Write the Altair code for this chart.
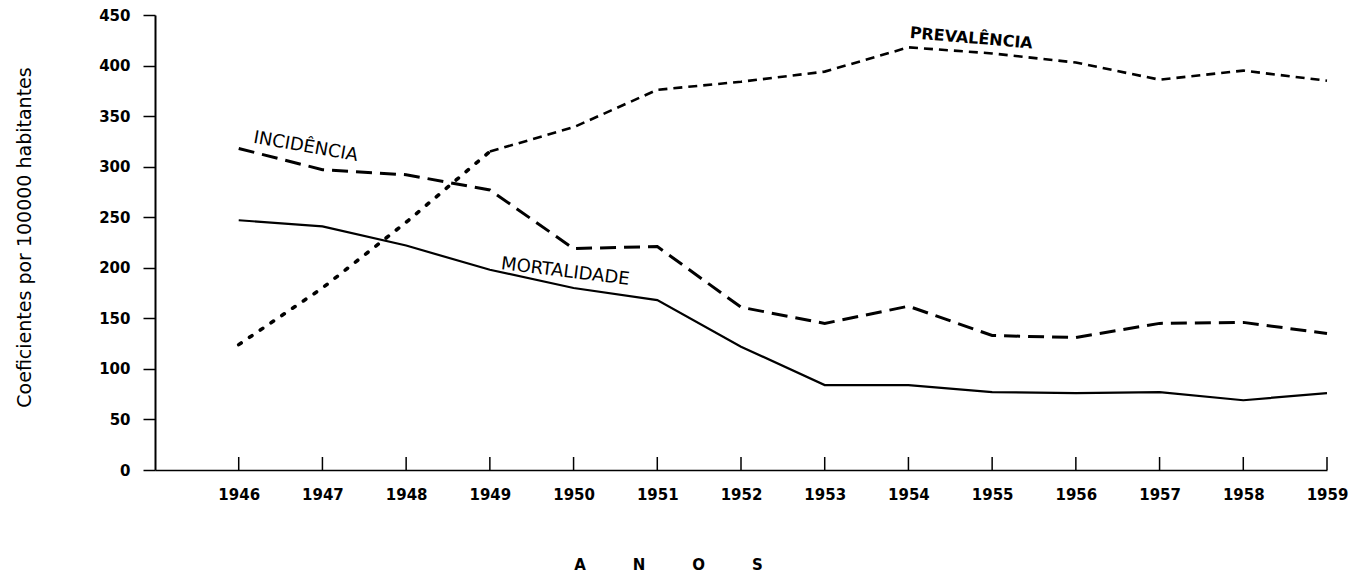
import altair as alt
import pandas as pd

# ---- data ----
anos = list(range(1946, 1960))
mortalidade = [247, 241, 222, 198, 180, 168, 122, 84, 84, 77, 76, 77, 69, 76]
incidencia = [318, 297, 292, 277, 219, 221, 161, 145, 162, 133, 131, 145, 146, 135]
prevalencia = [124, 180, 245, 315, 339, 376, 384, 394, 418, 412, 403, 386, 395, 385]
y_ticks = list(range(0, 451, 50))

rotulos = ["INCIDÊNCIA", "MORTALIDADE", "PREVALÊNCIA"]
rotulo_ano = [1946.80, 1949.90, 1954.75]
rotulo_valor = [319.5, 195.8, 427.0]
rotulo_angulo = [10, 7, 5]

FONT = "DejaVu Sans"
INK = "#000000"

df_m = pd.DataFrame({"ano": anos, "valor": mortalidade})
df_i = pd.DataFrame({"ano": anos, "valor": incidencia})
df_p = pd.DataFrame({"ano": anos, "valor": prevalencia})
df_r = pd.DataFrame({"ano": rotulo_ano, "valor": rotulo_valor,
                     "texto": rotulos, "ang": rotulo_angulo})
df_t = pd.DataFrame({"ano": anos, "valor": [0] * len(anos)})

nb = "\u00a0" * 9
x_title = "A" + nb + "N" + nb + "O" + nb + "S"

xscale = alt.Scale(domain=[1945, 1959], nice=False, zero=False)
yscale = alt.Scale(domain=[0, 450], nice=False)

x_axis = alt.Axis(
    values=anos, format="d", ticks=False, tickSize=0, labelPadding=17,
    labelFont=FONT, labelFontSize=15, labelFontWeight="bold", labelColor=INK,
    labelFlush=False, domainColor=INK, domainWidth=1.6, grid=False,
    title=x_title, titleX=513, titleY=87, titleBaseline="top", titleAlign="center",
    titleFont=FONT, titleFontSize=15, titleFontWeight="bold", titleColor=INK,
)
y_axis = alt.Axis(
    values=y_ticks, tickSize=12, tickWidth=1.5, tickColor=INK, labelPadding=13,
    labelFont=FONT, labelFontSize=15, labelFontWeight="bold", labelColor=INK,
    domainColor=INK, domainWidth=2, grid=False,
    title="Coeficientes por 100000 habitantes", titleX=-121, titleY=222,
    titleAngle=270, titleBaseline="bottom", titleAlign="center",
    titleFont=FONT, titleFontSize=19, titleFontWeight="normal", titleColor=INK,
)

X = alt.X("ano:Q", scale=xscale, axis=x_axis)
Y = alt.Y("valor:Q", scale=yscale, axis=y_axis)

mort = alt.Chart(df_m).mark_line(color=INK, strokeWidth=2.2).encode(x=X, y=Y)
inc = alt.Chart(df_i).mark_line(color=INK, strokeWidth=3, strokeDash=[16, 8]).encode(x=X, y=Y)
prev_dots = alt.Chart(df_p).transform_filter(alt.datum.ano <= 1949).mark_line(
    color=INK, strokeWidth=3.6, strokeDash=[3, 10], strokeCap="round"
).encode(x=X, y=Y)
prev_dash = alt.Chart(df_p).transform_filter(alt.datum.ano >= 1949).mark_line(
    color=INK, strokeWidth=2.6, strokeDash=[9, 6]
).encode(x=X, y=Y)
ticks = alt.Chart(df_t).mark_rule(color=INK, strokeWidth=1.5).encode(
    x=X, y=alt.value(455), y2=alt.value(442),
)
labels_thin = alt.Chart(df_r).transform_filter(
    alt.datum.texto != "PREVALÊNCIA"
).mark_text(font=FONT, fontSize=18, color=INK, align="center", baseline="middle").encode(
    x=X, y=Y, text="texto:N", angle=alt.Angle("ang:Q", scale=None),
)
labels_bold = alt.Chart(df_r).transform_filter(
    alt.datum.texto == "PREVALÊNCIA"
).mark_text(font=FONT, fontSize=16, fontWeight="bold", color=INK,
            align="center", baseline="middle").encode(
    x=X, y=Y, text="texto:N", angle=alt.Angle("ang:Q", scale=None),
)

chart = alt.layer(mort, inc, prev_dots, prev_dash, ticks, labels_thin, labels_bold).properties(
    width=1172, height=455,
    autosize=alt.AutoSizeParams(type="none"),
    padding={"left": 147, "top": 7, "right": 33, "bottom": 102},
    background="white",
).configure_view(stroke=None)

chart.save("out.html", embed_options={"renderer": "svg", "actions": False})
